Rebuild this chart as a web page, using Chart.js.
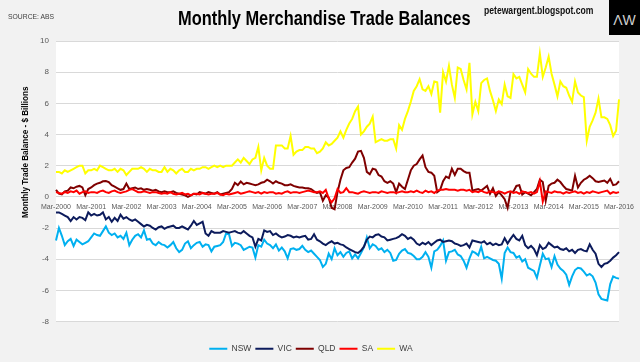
<!DOCTYPE html>
<html>
<head>
<meta charset="utf-8">
<script src="https://cdn.jsdelivr.net/npm/chart.js@4.4.0/dist/chart.umd.min.js"></script>
<style>
  body { margin: 0; background: #f2f2f2; }
  #wrap { position: relative; width: 640px; height: 362px; overflow: hidden; background: #f2f2f2;
          font-family: "Liberation Sans", Arial, sans-serif; }
  #chart { position: absolute; left: 0; top: 0; }
  .txt { position: absolute; white-space: nowrap; transform-origin: 0 0; }
  #title { left: 178px; top: 7px; transform: scaleX(0.82); font-size: 20px; font-weight: bold; color: #000; }
  #source { left: 8px; top: 12px; transform: scaleX(0.85); font-size: 8px; color: #404040; }
  #site { left: 484px; top: 5px; transform: scaleX(0.86); font-size: 10px; font-weight: bold; color: #111; }
  #logo { left: 609px; top: 0; width: 31px; height: 35px; background: #000; color: #cfcfcf; font-size: 14px;
          text-align: center; line-height: 40px; }
  #ytitle { left: 20px; top: 218px; transform: rotate(-90deg) scaleX(0.9); font-size: 9px; font-weight: bold; color: #000; }
</style>
</head>
<body>
<div id="wrap">
  <canvas id="chart" width="640" height="362"></canvas>
  <div class="txt" id="title">Monthly Merchandise Trade Balances</div>
  <div class="txt" id="source">SOURCE: ABS</div>
  <div class="txt" id="site">petewargent.blogspot.com</div>
  <div class="txt" id="logo">ΛW</div>
  <div class="txt" id="ytitle">Monthly Trade Balance - $ Billions</div>
</div>
<script>
// tick labels: one per March, months in between
const years = ['2000', '2001', '2002', '2003', '2004', '2005', '2006', '2007', '2008',
               '2009', '2010', '2011', '2012', '2013', '2014', '2015', '2016'];
const monthNames = ['Mar', 'Apr', 'May', 'Jun', 'Jul', 'Aug', 'Sep', 'Oct', 'Nov', 'Dec', 'Jan', 'Feb'];

// $ billions, monthly from Mar-2000 to Mar-2016
const nsw = [
  -2.8, -2.0, -2.5, -3.1, -2.85, -2.7, -3.15, -2.75, -2.9, -3.05, -2.95, -2.85,
  -2.6, -2.35, -2.45, -2.5, -2.2, -1.9, -2.3, -2.45, -2.35, -2.6, -2.5, -2.7,
  -2.3, -3.1, -2.75, -2.5, -2.4, -2.6, -2.15, -2.75, -2.7, -3.0, -3.1, -2.9,
  -3.05, -3.1, -3.25, -3.1, -2.9, -3.3, -3.55, -3.4, -3.0, -2.85, -3.3, -3.1,
  -2.95, -2.9, -3.2, -3.05, -3.1, -3.5, -3.2, -3.15, -3.1, -2.9, -2.35, -2.4,
  -3.15, -2.95, -3.0, -3.1, -3.4, -3.3, -3.2, -3.25, -3.9, -3.1, -3.2, -2.75,
  -3.0, -3.1, -3.3, -3.05, -3.45, -3.25, -3.5, -3.95, -3.35, -3.3, -3.4, -3.35,
  -3.15, -3.4, -3.55, -3.45, -3.65, -3.85, -4.05, -4.5, -4.3, -3.65, -4.0, -3.3,
  -3.75, -3.55, -3.85, -3.6, -3.5, -3.95, -3.7, -3.95, -3.6, -3.25, -2.6, -3.3,
  -3.05, -3.15, -3.4, -3.3, -3.55, -3.4, -3.6, -4.1, -4.05, -3.65, -3.45, -3.35,
  -3.6, -3.65, -3.8, -4.0, -4.0, -3.85, -3.55, -3.85, -4.55, -3.5, -3.4, -3.15,
  -2.8, -4.1, -3.55, -3.5, -3.4, -3.7, -3.8, -4.1, -4.55, -3.95, -3.5, -3.6,
  -3.75, -3.2, -3.95, -3.85, -3.95, -4.05, -4.1, -4.3, -5.25, -3.6, -3.25, -3.55,
  -3.6, -3.9, -3.8, -4.15, -4.0, -4.55, -4.65, -4.75, -5.2, -4.4, -3.65, -4.0,
  -3.95, -4.5, -3.8, -4.35, -4.6, -4.75, -5.0, -5.65, -5.1, -4.7, -4.55, -4.6,
  -4.8, -5.05, -4.95, -5.1, -5.5, -6.25, -6.55, -6.6, -6.65, -5.6, -5.1, -5.2, -5.25
];
const vic = [
  -1.0, -1.0, -1.1, -1.2, -1.3, -1.55, -1.3, -1.45, -1.3, -1.35, -1.5, -1.0,
  -1.2, -1.1, -1.2, -1.15, -1.0, -1.45, -1.3, -1.6, -1.35, -1.55, -1.15, -1.4,
  -1.3, -1.45, -1.55, -1.45, -1.6, -1.75, -1.9, -1.8, -1.85, -2.0, -2.1, -1.95,
  -1.9, -2.05, -1.95, -1.9, -1.85, -2.0, -2.0, -1.9, -2.0, -2.1, -1.85, -1.55,
  -1.8, -1.7, -1.6, -2.35, -2.5, -2.2, -2.3, -2.3, -2.3, -2.2, -2.25, -2.3,
  -2.25, -2.2, -2.3, -2.35, -2.2, -2.35, -2.5, -2.6, -3.2, -2.7, -2.8, -2.15,
  -2.25, -2.2, -2.45, -2.35, -2.5, -2.6, -2.55, -2.45, -2.5, -2.6, -2.55, -2.6,
  -2.55, -2.5, -2.75, -2.7, -2.4, -2.75, -2.85, -3.0, -3.1, -2.95, -2.85, -3.0,
  -2.95, -3.05, -3.1, -3.25, -3.35, -3.45, -3.55, -3.6, -3.45, -3.2, -2.75, -2.55,
  -2.6, -2.45, -2.4, -2.55, -2.6, -2.8, -2.75, -2.7, -2.65, -2.55, -2.4, -2.5,
  -2.7, -2.6, -2.75, -3.0, -3.1, -2.95, -3.05, -2.9, -3.1, -2.95, -2.8, -2.75,
  -2.9, -2.85, -2.8, -2.85, -3.0, -3.05, -3.15, -3.1, -3.0, -3.25, -2.8, -2.85,
  -2.9, -2.95, -2.85, -3.05, -2.95, -3.1, -3.0, -3.1, -3.05, -2.65, -3.0, -2.7,
  -2.45, -2.7, -2.8, -2.5, -3.1, -3.3, -3.15, -3.35, -3.75, -3.1, -3.35, -3.25,
  -2.95, -3.1, -3.25, -3.2, -3.35, -3.4, -3.3, -3.5, -3.4, -3.6, -3.4, -3.35,
  -3.45, -3.5, -3.05, -3.4, -3.65, -4.3, -4.5, -4.3, -4.25, -4.1, -3.9, -3.75, -3.55
];
const qld = [
  0.45, 0.2, 0.15, 0.35, 0.4, 0.6, 0.55, 0.65, 0.7, 0.6, 0.1, 0.5,
  0.6, 0.75, 0.85, 0.9, 1.0, 1.02, 0.95, 0.75, 0.65, 0.55, 0.45, 0.5,
  0.85, 0.5, 0.55, 0.6, 0.5, 0.55, 0.45, 0.5, 0.45, 0.4, 0.45, 0.35,
  0.3, 0.35, 0.3, 0.3, 0.35, 0.25, 0.2, 0.15, 0.1, 0.0, 0.1, 0.2,
  0.15, 0.3, 0.25, 0.2, 0.3, 0.25, 0.2, 0.3, 0.15, 0.2, 0.25, 0.3,
  0.5, 0.9, 0.75, 0.98, 0.8, 0.9, 0.85, 0.8, 0.75, 0.8, 0.9, 0.95,
  1.1, 1.0, 0.85, 1.0, 0.9, 0.85, 0.75, 0.75, 0.8, 0.7, 0.65, 0.6,
  0.6, 0.55, 0.55, 0.5, 0.35, 0.25, 0.3, -0.25, 0.1, -0.05, -0.7, -0.8,
  0.3, 1.1, 1.7, 1.85, 1.9, 2.2, 2.45, 2.9, 2.95, 2.5, 1.6, 1.45,
  1.8, 1.75, 1.4, 1.3, 1.0, 0.9, 1.0, 0.85, 0.3, 0.85, 0.65, 0.5,
  1.1, 1.7, 2.0, 2.1, 2.4, 2.65, 1.9, 1.6, 1.55, 1.35, 0.3, 0.45,
  1.0, 1.3, 1.2, 1.8, 1.4, 1.8, 1.8, 1.65, 1.55, 1.55, 0.4, 0.45,
  0.5, 0.4, 0.55, 0.7, 0.2, 0.55, 0.05, 0.3, 0.1, -0.15, -0.7, 0.3,
  0.35, 0.7, 0.75, 0.15, 0.3, 0.2, 0.1, 0.3, 0.5, 1.1, 0.95, -0.25,
  0.7, 0.85, 0.9, 1.1, 0.95, 0.7, 0.5, 0.45, 0.4, 1.35, 0.6, 0.9,
  1.1, 1.2, 1.35, 1.2, 1.0, 0.95, 1.0, 1.05, 0.9, 1.15, 0.75, 0.8, 1.0
];
const sa = [
  0.3, 0.25, 0.2, 0.3, 0.25, 0.35, 0.3, 0.4, 0.2, 0.3, 0.35, 0.25,
  0.3, 0.3, 0.25, 0.35, 0.4, 0.3, 0.25, 0.35, 0.4, 0.3, 0.25, 0.3,
  0.35, 0.45, 0.5, 0.4, 0.3, 0.3, 0.35, 0.3, 0.25, 0.3, 0.3, 0.25,
  0.2, 0.25, 0.2, 0.3, 0.2, 0.15, 0.2, 0.25, 0.15, 0.2, 0.1, 0.2,
  0.2, 0.15, 0.25, 0.2, 0.15, 0.2, 0.2, 0.25, 0.15, 0.1, 0.2, 0.15,
  0.2, 0.25, 0.3, 0.2, 0.25, 0.3, 0.35, 0.3, 0.25, 0.3, 0.2, 0.3,
  0.25, 0.3, 0.3, 0.2, 0.25, 0.2, 0.3, 0.35, 0.25, 0.3, 0.3, 0.25,
  0.3, 0.35, 0.4, 0.35, 0.3, 0.3, 0.35, 0.25, 0.45, -0.1, -0.35, -0.1,
  0.5, 0.25, 0.3, 0.55, 0.3, 0.3, 0.25, 0.2, 0.3, 0.35, 0.3, 0.25,
  0.3, 0.3, 0.25, 0.35, 0.3, 0.25, 0.3, 0.3, 0.25, 0.3, 0.35, 0.3,
  0.3, 0.35, 0.3, 0.4, 0.3, 0.25, 0.4, 0.3, 0.35, 0.25, 0.4, 0.45,
  0.45, 0.5, 0.45, 0.45, 0.45, 0.4, 0.45, 0.45, 0.4, 0.45, 0.3, 0.35,
  0.3, 0.4, 0.3, 0.25, 0.35, 0.3, 0.25, 0.35, 0.3, 0.2, 0.3, 0.35,
  0.25, 0.3, 0.2, 0.35, 0.3, 0.25, 0.3, 0.2, 0.3, 1.0, -0.3, 0.35,
  0.3, 0.25, 0.35, 0.3, 0.3, 0.2, 0.3, 0.25, 0.3, 0.35, 0.25, 0.3,
  0.2, 0.3, 0.25, 0.35, 0.3, 0.25, 0.3, 0.35, 0.4, 0.2, 0.3, 0.25, 0.3
];
const wa = [
  1.6, 1.6, 1.5, 1.7, 1.6, 1.7, 1.8, 1.9, 2.0, 2.0, 1.5, 1.7,
  1.7, 1.8, 1.7, 2.0, 1.9, 1.8, 1.7, 1.7, 1.8, 1.6, 1.8, 1.7,
  1.4, 1.6, 1.8, 1.8, 1.8, 1.9, 1.8, 1.6, 1.8, 1.7, 1.7, 1.6,
  1.6, 1.9, 1.6, 1.8, 1.7, 1.5, 1.7, 1.8, 1.6, 1.6, 1.8, 1.7,
  1.8, 1.8, 1.9, 1.9, 1.8, 1.9, 2.0, 1.9, 2.0, 1.9, 2.0, 2.0,
  2.0, 2.2, 2.4, 2.2, 2.5, 2.3, 2.1, 2.4, 2.5, 3.2, 1.7, 2.5,
  2.0, 1.8, 1.8, 3.3, 3.3, 3.3, 3.1, 3.1, 3.9, 2.7, 2.9, 3.0,
  3.0, 3.2, 3.2, 3.1, 3.1, 2.8, 2.9, 3.1, 3.5, 3.3, 3.4, 3.6,
  3.8, 4.2, 3.8, 4.3, 4.7, 5.0, 5.5, 5.8, 4.0, 4.2, 4.5, 4.7,
  5.15, 3.5, 3.6, 3.7, 3.6, 3.6, 3.7, 3.7, 3.1, 4.6, 4.3, 5.0,
  5.5, 6.1, 6.8, 7.1, 7.55, 6.9, 6.8, 7.1, 6.6, 7.4, 7.35, 5.4,
  8.0, 7.4, 8.4, 7.2, 6.35, 8.3, 8.2, 7.5, 6.9, 8.6, 5.3, 6.1,
  5.5, 7.3, 7.5, 7.6, 6.8, 6.2, 5.5, 6.25, 5.95, 7.2, 6.45, 6.35,
  7.87, 7.6, 7.7, 7.2, 6.7, 8.2, 7.9, 7.7, 7.7, 9.2, 7.7, 8.3,
  9.0, 7.9, 7.2, 6.45, 7.4, 7.1, 7.0, 6.5, 6.1, 7.4, 6.7, 6.5,
  6.4, 3.6, 4.5, 4.9, 5.4, 6.3, 5.1, 5.1, 5.0, 4.6, 3.9, 4.25, 6.25
];

const labels = [];
for (let y = 0; y < years.length - 1; y++) {
  monthNames.forEach((m, k) => labels.push(m + '-' + years[k < 10 ? y : y + 1]));
}
labels.push('Mar-' + years[years.length - 1]);

Chart.defaults.font.family = "'Liberation Sans', Arial, sans-serif";
Chart.defaults.color = '#595959';

// white plot area on grey page, and push legend down to the bottom strip
const plotArea = {
  id: 'plotArea',
  beforeDraw(chart) {
    const a = chart.chartArea;
    const ctx = chart.ctx;
    ctx.save();
    ctx.fillStyle = '#ffffff';
    ctx.fillRect(a.left, a.top, a.right - a.left, a.bottom - a.top);
    ctx.restore();
  },
  afterLayout(chart) {
    chart.legend.top += 19;
    chart.legend.bottom += 19;
  }
};

function line(label, data, color, order) {
  return {
    label: label,
    data: data,
    borderColor: color,
    backgroundColor: color,
    borderWidth: 2,
    pointRadius: 0,
    tension: 0,
    order: order
  };
}

new Chart(document.getElementById('chart'), {
  type: 'line',
  data: {
    labels: labels,
    datasets: [
      line('NSW', nsw, '#00b0f0', 4),
      line('VIC', vic, '#0c1b5c', 3),
      line('QLD', qld, '#7f0000', 2),
      line('SA', sa, '#ff0000', 1),
      line('WA', wa, '#ffff00', 0)
    ]
  },
  options: {
    responsive: false,
    animation: false,
    devicePixelRatio: 1,
    layout: { padding: { left: 0, right: 18, top: 41, bottom: 18 } },
    scales: {
      x: {
        position: { y: 0 },
        grid: { display: false, drawTicks: false },
        border: { display: false },
        ticks: {
          autoSkip: false,
          maxRotation: 0,
          padding: 6,
          font: { size: 7 },
          callback: (v, i) => (i % 12 === 0 ? labels[i] : null)
        }
      },
      y: {
        min: -8,
        max: 10,
        grid: { color: '#d9d9d9', drawTicks: false },
        border: { display: false },
        ticks: { stepSize: 2, padding: 7, font: { size: 8 } },
        afterFit: (s) => { s.width = 56; }
      }
    },
    plugins: {
      legend: {
        position: 'bottom',
        labels: {
          usePointStyle: true,
          pointStyle: 'line',
          pointStyleWidth: 18,
          padding: 4,
          color: '#404040',
          font: { size: 8.5 },
          sort: (a, b) => a.datasetIndex - b.datasetIndex
        }
      },
      tooltip: { enabled: false }
    }
  },
  plugins: [plotArea]
});
</script>
</body>
</html>
